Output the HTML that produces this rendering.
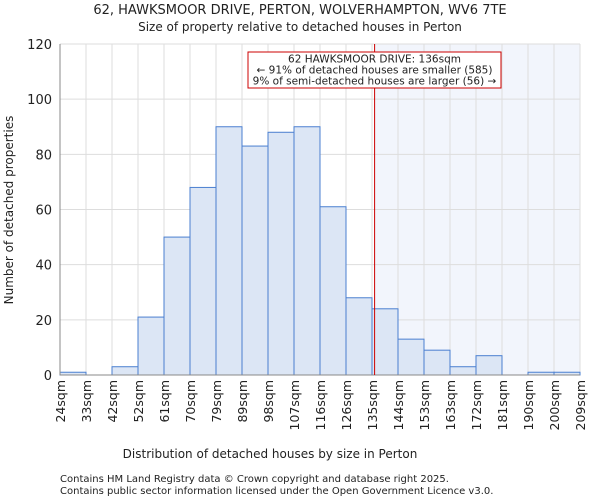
<!DOCTYPE html>
<html><head><meta charset="utf-8"><style>
body{margin:0;background:#fff;font-family:"DejaVu Sans","Liberation Sans",sans-serif}
text{font-family:"DejaVu Sans","Liberation Sans",sans-serif;fill:#222}
</style></head><body>
<svg id="c" width="600" height="500" xmlns="http://www.w3.org/2000/svg">
<text x="300" y="14" text-anchor="middle" font-size="13">62, HAWKSMOOR DRIVE, PERTON, WOLVERHAMPTON, WV6 7TE</text>
<text x="300" y="31" text-anchor="middle" font-size="12">Size of property relative to detached houses in Perton</text>
<g id="plot"></g>
<text x="270" y="458" text-anchor="middle" font-size="12">Distribution of detached houses by size in Perton</text>
<text transform="translate(13,210) rotate(-90)" text-anchor="middle" font-size="12">Number of detached properties</text>
<text x="60" y="482" font-size="10" fill="#444">Contains HM Land Registry data © Crown copyright and database right 2025.</text>
<text x="60" y="494" font-size="10" fill="#444">Contains public sector information licensed under the Open Government Licence v3.0.</text>
</svg>
<script>
const binLabels=["24sqm","33sqm","42sqm","52sqm","61sqm","70sqm","79sqm","89sqm","98sqm","107sqm","116sqm","126sqm","135sqm","144sqm","153sqm","163sqm","172sqm","181sqm","190sqm","200sqm","209sqm"];
const counts=[1,0,3,21,50,68,90,83,88,90,61,28,24,13,9,3,7,0,1,1];
const yTicks=[0,20,40,60,80,100,120];
const markerBin=12.1;
const NS="http://www.w3.org/2000/svg";
const L=60,R=580,T=44,B=375,yMax=120;
const bw=(R-L)/counts.length;
const x=i=>L+i*bw, y=v=>B-(v/yMax)*(B-T);
const g=document.getElementById('plot');
function mk(t,a,p){const e=document.createElementNS(NS,t);for(const k in a)e.setAttribute(k,a[k]);(p||g).appendChild(e);return e;}
let e;
e=mk('rect',{x:x(markerBin),y:T,width:R-x(markerBin),height:B-T,fill:'#f2f5fc'});


yTicks.forEach(v=>{
 e=mk('line',{x1:L,x2:R,y1:y(v),y2:y(v),stroke:'#ddd'});
 
 
 e=mk('text',{x:L-8,y:y(v)+5,'text-anchor':'end','font-size':13});e.textContent=v;
 
 
});
binLabels.forEach((s,i)=>{
 e=mk('line',{x1:x(i),x2:x(i),y1:T,y2:B,stroke:'#ddd'});
 
 
 e=mk('text',{transform:`translate(${x(i)+5},380) rotate(-90)`,'text-anchor':'end','font-size':12.5});e.textContent=s;
 
 
});
counts.forEach((c,i)=>{
 e=mk('rect',{x:x(i),y:y(c),width:bw,height:B-y(c),fill:'#dce6f5',stroke:'#4a7fd0','stroke-width':1});
 
 
});
e=mk('line',{x1:L,x2:L,y1:T,y2:B,stroke:'#888'});


e=mk('line',{x1:L,x2:R,y1:B,y2:B,stroke:'#888'});


e=mk('line',{x1:x(markerBin),x2:x(markerBin),y1:T,y2:B,stroke:'#cc0000','stroke-width':1});


e=mk('rect',{x:248,y:52,width:253,height:36,fill:'#fff',stroke:'#cc0000'});


["62 HAWKSMOOR DRIVE: 136sqm","← 91% of detached houses are smaller (585)","9% of semi-detached houses are larger (56) →"].forEach((s,i)=>{
 e=mk('text',{x:374.5,y:62.5+i*11,'text-anchor':'middle','font-size':10.5});e.textContent=s;
 
 
});
</script>
</body></html>
